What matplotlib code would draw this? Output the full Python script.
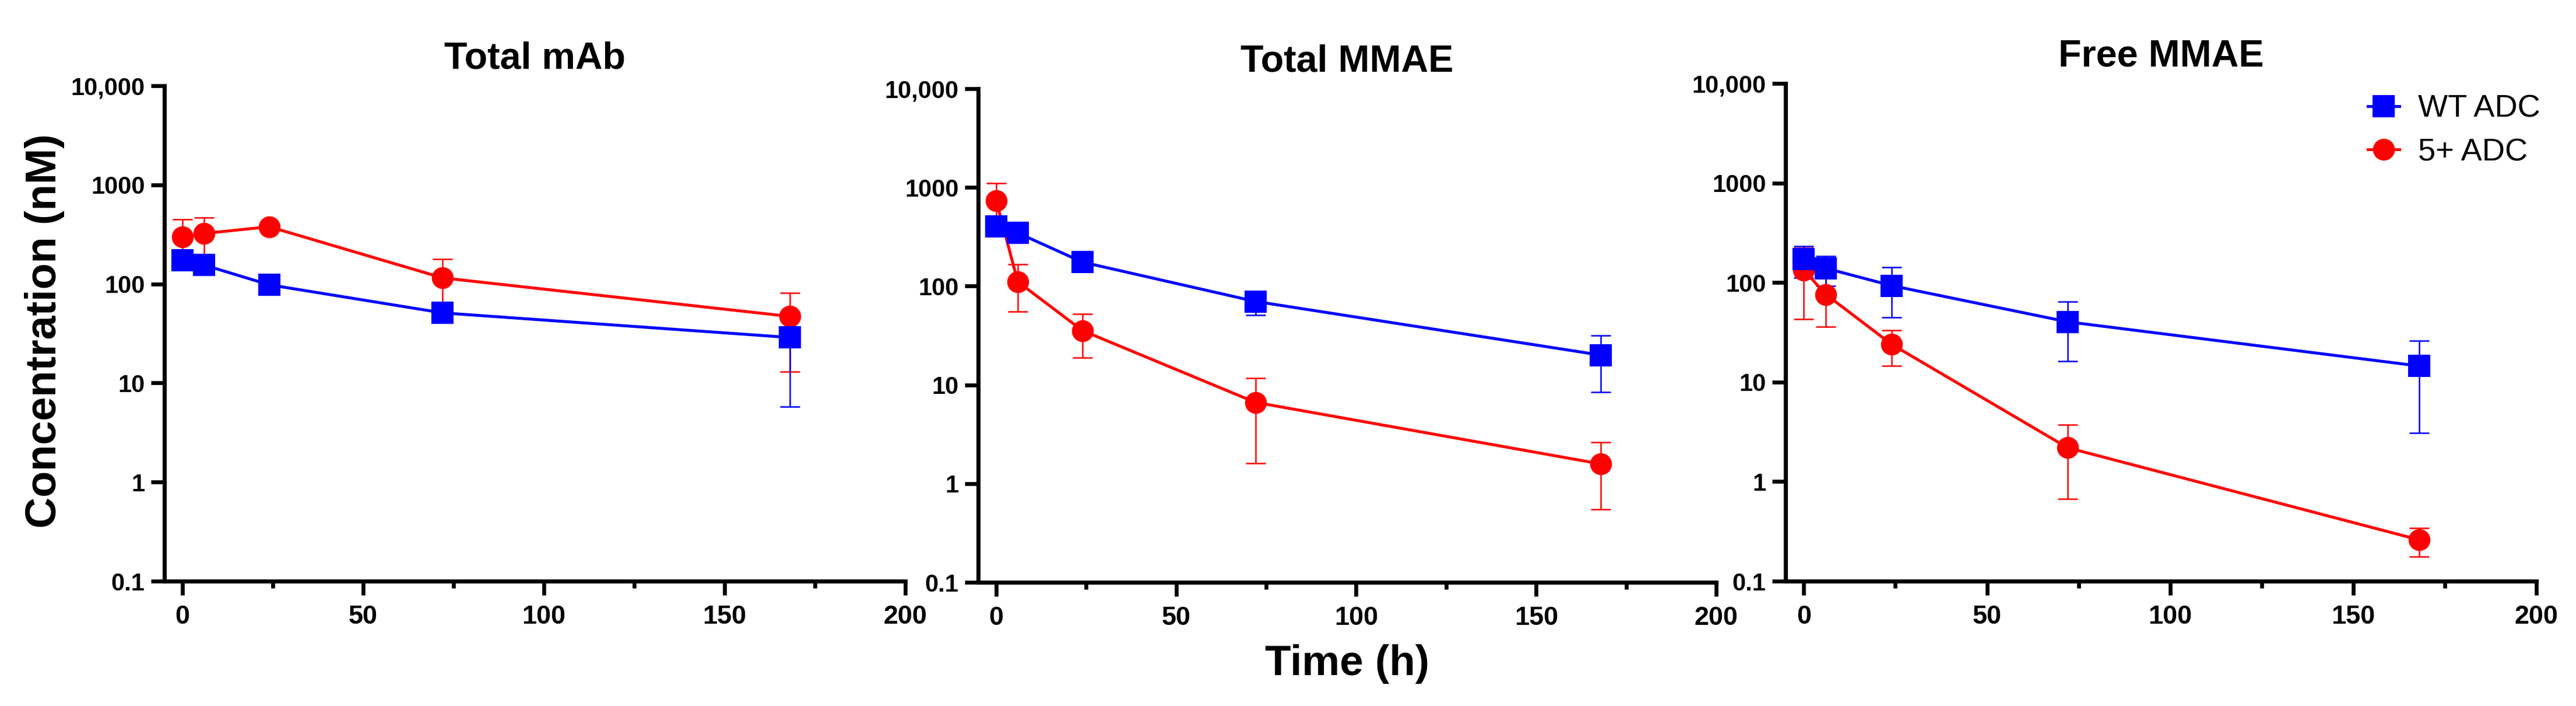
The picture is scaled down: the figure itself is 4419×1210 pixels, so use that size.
import matplotlib
matplotlib.use("Agg")
import matplotlib.pyplot as plt
from matplotlib.lines import Line2D
from matplotlib.ticker import FixedLocator, FixedFormatter, NullLocator, MultipleLocator

plt.rcParams['font.family'] = ['Liberation Sans', 'DejaVu Sans']

# sampling times (h)
time = [0, 6, 24, 72, 168]

panel_titles = ["Total mAb", "Total MMAE", "Free MMAE"]
series_labels = ["WT ADC", "5+ ADC"]

# mean and SD (nM)
wt_mab = [174, 155, 98, 51, 28.8]
wt_mab_sd = [15, 12, 8, 5, 23]
pos_mab = [300, 323, 378, 115, 47]
pos_mab_sd = [147, 143, 20, 63, 34]

wt_tmmae = [405, 346, 175, 70, 20]
wt_tmmae_sd = [50, 50, 20, 19, 11.5]
pos_tmmae = [738, 111, 35.4, 6.65, 1.58]
pos_tmmae_sd = [361, 56, 16.6, 5.05, 1.03]

wt_fmmae = [172, 139, 93, 40.3, 14.5]
wt_fmmae_sd = [61, 46, 48.5, 24, 11.4]
pos_fmmae = [133, 76, 23.9, 2.19, 0.26]
pos_fmmae_sd = [90, 40, 9.4, 1.52, 0.083]

yticks = [0.1, 1, 10, 100, 1000, 10000]
ytick_labels = ["0.1", "1", "10", "100", "1000", "10,000"]
xticks = [0, 50, 100, 150, 200]

wt_color = '#0000FF'
pos_color = '#FF0000'

W, H = 4419, 1210
fig = plt.figure(figsize=(W / 300, H / 300), dpi=300)

# axes boxes in pixels: left, right, top, bottom
boxes = [(282, 1553, 147, 996), (1678, 2944, 152, 998), (3063, 4351, 143, 996)]
data = [
    (wt_mab, wt_mab_sd, pos_mab, pos_mab_sd),
    (wt_tmmae, wt_tmmae_sd, pos_tmmae, pos_tmmae_sd),
    (wt_fmmae, wt_fmmae_sd, pos_fmmae, pos_fmmae_sd),
]

axes = []
for (l, r, t, b), title, (wt, wt_sd, pos, pos_sd) in zip(boxes, panel_titles, data):
    ax = fig.add_axes([l / W, 1 - b / H, (r - l) / W, (b - t) / H])
    axes.append(ax)
    ax.errorbar(time, pos, yerr=pos_sd, color=pos_color, marker='o', markersize=8,
                linewidth=1.2, elinewidth=0.6, capsize=4, capthick=0.6)
    ax.errorbar(time, wt, yerr=wt_sd, color=wt_color, marker='s', markersize=8.3,
                linewidth=1.2, elinewidth=0.6, capsize=4, capthick=0.6)
    ax.set_yscale('log')
    ax.set_ylim(0.1, 10000)
    ax.set_xlim(-5, 200)
    ax.yaxis.set_major_locator(FixedLocator(yticks))
    ax.yaxis.set_major_formatter(FixedFormatter(ytick_labels))
    ax.yaxis.set_minor_locator(NullLocator())
    ax.xaxis.set_major_locator(FixedLocator(xticks))
    ax.xaxis.set_minor_locator(MultipleLocator(25))
    for s in ['top', 'right']:
        ax.spines[s].set_visible(False)
    for s in ['left', 'bottom']:
        ax.spines[s].set_linewidth(1.7)
    ax.tick_params(axis='y', which='major', length=5.5, width=1.6, pad=2.5, labelsize=10)
    ax.tick_params(axis='x', which='major', length=5.8, width=1.6, pad=4, labelsize=10.8)
    ax.tick_params(axis='x', which='minor', length=2.9, width=1.6)
    for lab in ax.get_xticklabels() + ax.get_yticklabels():
        lab.set_fontweight('bold')
    ax.set_title(title, fontsize=15.5, fontweight='bold', pad=7)

handles = [
    Line2D([], [], color=wt_color, marker='s', markersize=8.3, linewidth=1.2),
    Line2D([], [], color=pos_color, marker='o', markersize=8, linewidth=1.2),
]
axes[2].legend(handles, series_labels, loc='upper left',
               bbox_to_anchor=(4040 / W, 1 - 140 / H), bbox_transform=fig.transFigure,
               frameon=False, prop={'size': 13},
               handlelength=1.0, handletextpad=0.6, labelspacing=0.45, borderaxespad=0)

fig.text(77 / W, 1 - 567 / H, "Concentration (nM)", rotation=90, ha='center', va='center',
         fontsize=17.7, fontweight='bold')
fig.text(2311 / W, 1 - 1138 / H, "Time (h)", ha='center', va='center',
         fontsize=17.5, fontweight='bold')

fig.savefig("out.png", dpi=300)
